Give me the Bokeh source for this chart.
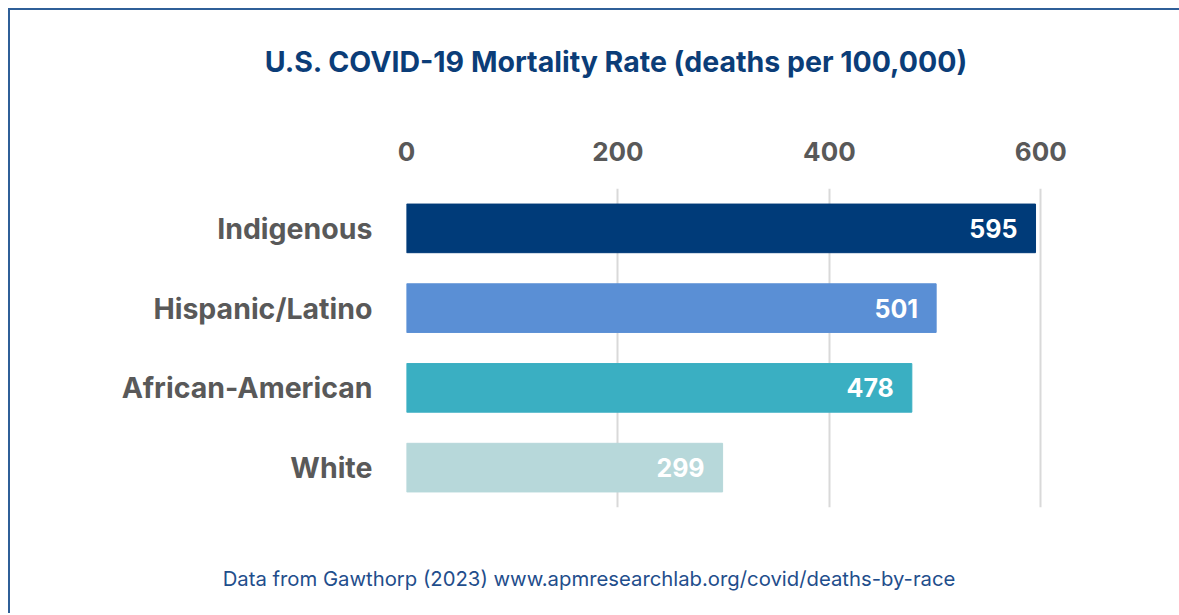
from bokeh.plotting import figure
from bokeh.layouts import column, row
from bokeh.models import ColumnDataSource, Range1d, FactorRange, FixedTicker, Div
from bokeh.embed import file_html
from bokeh.resources import INLINE
from bokeh.core.properties import value

groups = ["Indigenous", "Hispanic/Latino", "African-American", "White"]
rates = [595, 501, 478, 299]
bar_colors = ["#003b79", "#5a8fd5", "#3aafc2", "#b7d8da"]
tick_values = [0, 200, 400, 600]

title_text = "U.S. COVID-19 Mortality Rate (deaths per 100,000)"
source_text = "Data from Gawthorp (2023) www.apmresearchlab.org/covid/deaths-by-race"

FONT = "Inter"
RULE_COLOR = "#2f5f98"

src = ColumnDataSource(dict(
    group=groups,
    rate=rates,
    color=bar_colors,
    label=[str(v) for v in rates],
))

p = figure(
    width=1167, height=450,
    y_range=FactorRange(*reversed(groups), range_padding=0),
    x_range=Range1d(0, 647),
    x_axis_location="above",
    output_backend="svg", toolbar_location=None,
    min_border_left=396, min_border_right=87,
    min_border_top=74, min_border_bottom=57,
    margin=0,
)
p.title = None
p.outline_line_color = None
p.background_fill_color = "white"
p.border_fill_color = "white"

p.hbar(y="group", right="rate", left=0, height=0.61, color="color", source=src)

p.text(x="rate", y="group", text="label", source=src,
       x_offset=-18, text_align="right", text_baseline="middle",
       text_color="white", text_font=value(FONT), text_font_style="bold",
       text_font_size="25px")

# axes
xa = p.xaxis[0]
xa.ticker = FixedTicker(ticks=tick_values)
xa.axis_line_color = None
xa.major_tick_line_color = None
xa.minor_tick_line_color = None
xa.major_label_standoff = 22
xa.major_label_text_font = FONT
xa.major_label_text_font_style = "bold"
xa.major_label_text_font_size = "26px"
xa.major_label_text_color = "#595959"

ya = p.yaxis[0]
ya.axis_line_color = None
ya.major_tick_line_color = None
ya.major_label_standoff = 28
ya.major_label_text_font = FONT
ya.major_label_text_font_style = "bold"
ya.major_label_text_font_size = "28.5px"
ya.major_label_text_color = "#595959"

p.xgrid.grid_line_color = "#d9d9d9"
p.xgrid.grid_line_width = 2
p.ygrid.grid_line_color = None

heading = Div(text=title_text, width=1122, height=104, margin=(0, 0, 0, 45),
              styles={"font-family": FONT, "font-weight": "bold",
                      "font-size": "28.5px", "color": "#0b3d78",
                      "text-align": "center", "line-height": "104px",
                      "white-space": "nowrap"})

source_note = Div(text=source_text, width=1158, height=49, margin=0,
                  styles={"font-family": FONT, "font-weight": "normal",
                          "font-size": "20.3px", "color": "#1f4e8c",
                          "text-align": "center", "line-height": "30px",
                          "white-space": "nowrap"})

# thin rules framing the graphic on the left and top
top_rule = Div(text="", width=1171, height=2, margin=0,
               styles={"background-color": RULE_COLOR})
left_rule = Div(text="", width=2, height=603, margin=0,
                styles={"background-color": RULE_COLOR})

body = column(heading, p, source_note, margin=0, spacing=0)
page = column(top_rule, row(left_rule, body, margin=0, spacing=0),
              margin=(8, 0, 0, 8), spacing=0)

open("out.html", "w").write(file_html(page, INLINE))
